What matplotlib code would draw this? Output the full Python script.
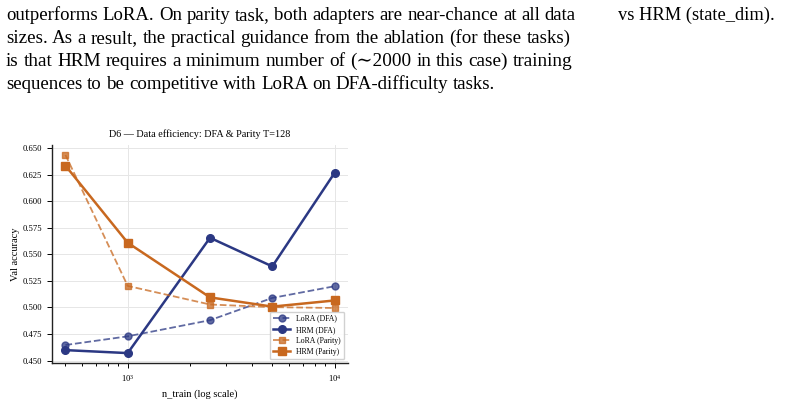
import matplotlib
matplotlib.use("Agg")
import matplotlib.pyplot as plt
from matplotlib.ticker import MultipleLocator, FormatStrFormatter

plt.rcParams['font.family'] = ['Liberation Serif', 'DejaVu Serif']
plt.rcParams['mathtext.fontset'] = 'stix'

# data
n_train = [500, 1000, 2500, 5000, 10000]
lora_dfa = [0.4646, 0.4728, 0.488, 0.509, 0.520]
hrm_dfa = [0.4598, 0.4570, 0.5657, 0.5387, 0.6268]
lora_parity = [0.6438, 0.5203, 0.5028, 0.5003, 0.4995]
hrm_parity = [0.6337, 0.5610, 0.5095, 0.5008, 0.5066]

para_lines = [
    "outperforms LoRA. On parity task, both adapters are near-chance at all data",
    "sizes.  As a result, the practical guidance from the ablation (for these tasks)",
    "is that HRM requires a minimum number of (\u223c2000 in this case) training",
    "sequences to be competitive with LoRA on DFA-difficulty tasks.",
]
side_text = "vs HRM (state_dim)."

W, H = 793, 404
fig = plt.figure(figsize=(W / 100, H / 100), dpi=100)
renderer = fig.canvas.get_renderer()


def text_width(s, size):
    t = fig.text(0, 0, s, fontsize=size)
    w = t.get_window_extent(renderer).width
    t.remove()
    return w


# paragraph text, one text per word; full lines stretched to the column width
x0, x1 = 6, 576
baselines = [20, 43, 66, 89]
fs = 13.55
for i, line in enumerate(para_lines):
    ys = 1 - baselines[i] / H
    size = fs
    if i < len(para_lines) - 1:
        scale = (x1 - x0) / text_width(line, fs)
        size = fs * min(max(scale, 0.95), 1.05)
    words = line.split()
    for k, word in enumerate(words):
        x = x0 + text_width(" ".join(words[:k + 1]), size) - text_width(word, size)
        fig.text(x / W, ys, word, fontsize=size, va='baseline', ha='left')
fig.text(618 / W, 1 - 20 / H, side_text, fontsize=13.3, va='baseline', ha='left')

# chart
ax = fig.add_axes([52 / W, 41 / H, 296 / W, 218 / H])
navy = '#2b3883'
orange = '#c8681f'
ax.plot(n_train, lora_dfa, '--o', color=navy, alpha=0.75, lw=1.3, ms=5, label='LoRA (DFA)')
ax.plot(n_train, hrm_dfa, '-o', color=navy, lw=1.8, ms=5.5, label='HRM (DFA)')
ax.plot(n_train, lora_parity, '--s', color=orange, alpha=0.75, lw=1.3, ms=5, label='LoRA (Parity)')
ax.plot(n_train, hrm_parity, '-s', color=orange, lw=1.8, ms=5.5, label='HRM (Parity)')

ax.set_xscale('log')
ax.yaxis.set_major_locator(MultipleLocator(0.025))
ax.yaxis.set_major_formatter(FormatStrFormatter('%.3f'))
ax.grid(True, which='major', color='#e6e6e6', lw=0.7)
ax.set_axisbelow(True)
for s in ['top', 'right']:
    ax.spines[s].set_visible(False)
for s in ['left', 'bottom']:
    ax.spines[s].set_linewidth(1.0)
    ax.spines[s].set_color('#222222')
ax.tick_params(which='both', direction='out', labelsize=6.2, width=0.7)
ax.tick_params(which='major', length=3.5)
ax.tick_params(which='minor', length=2)

ax.set_title('D6 \u2014 Data efficiency: DFA & Parity T=128', fontsize=7.3, pad=6)
ax.set_xlabel('n_train (log scale)', fontsize=7.5)
ax.set_ylabel('Val accuracy', fontsize=7.5, labelpad=2)
ax.legend(loc='lower right', fontsize=5.6, frameon=True, framealpha=0.9,
          edgecolor='#cccccc', borderpad=0.4, handlelength=2.2, labelspacing=0.4)

fig.savefig('out.png', dpi=100)
